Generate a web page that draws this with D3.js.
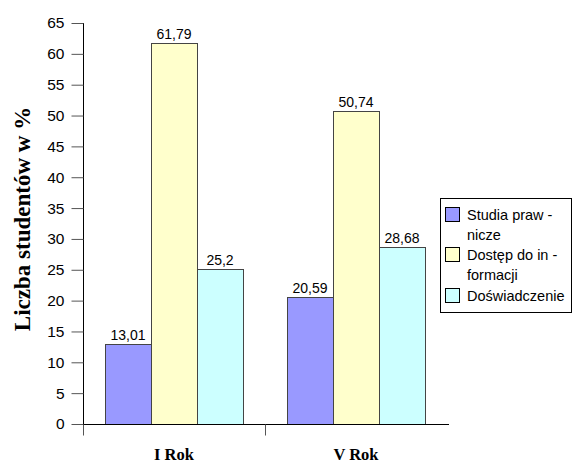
<!DOCTYPE html>
<html><head><meta charset="utf-8">
<script src="https://cdn.jsdelivr.net/npm/d3@7"></script>
<style>body{margin:0;background:#fff}svg{display:block}</style>
</head><body>
<svg id="c" width="573" height="464"></svg>
<script>
const categories = ["I Rok", "V Rok"];
const seriesNames = ["Studia praw - nicze", "Dostęp do in - formacji", "Doświadczenie"];
const legendLines = [["Studia praw -", "nicze"], ["Dostęp do in -", "formacji"], ["Doświadczenie"]];
const studiaPrawnicze = [13.01, 20.59];
const dostepDoInformacji = [61.79, 50.74];
const doswiadczenie = [25.2, 28.68];
const valueLabels = [["13,01", "20,59"], ["61,79", "50,74"], ["25,2", "28,68"]];
const yTicks = [0,5,10,15,20,25,30,35,40,45,50,55,60,65];
const colors = ["#9999FF", "#FFFFCC", "#CCFFFF"];

(function () {
const series = [studiaPrawnicze, dostepDoInformacji, doswiadczenie];
const svg = d3.select("#c");
const mLeft = 83, mRight = 447, mTop = 23, mBottom = 424;
const sans = "Liberation Sans, Arial, sans-serif";
const serif = "Liberation Serif, Times New Roman, serif";

const y = d3.scaleLinear().domain([0, 65]).range([mBottom, mTop]);
const x0 = d3.scaleBand().domain(categories).range([mLeft, mRight]).padding(0);
const x1 = d3.scaleBand().domain(d3.range(3)).range([22, x0.bandwidth() - 22]).padding(0);

// bars
series.forEach((vals, si) => {
  const g = svg.append("g");
  g.selectAll("rect").data(vals).enter().append("rect")
    .attr("x", (d, i) => x0(categories[i]) + x1(si) + 0.5)
    .attr("y", d => Math.round(y(d)) + 0.5)
    .attr("width", x1.bandwidth())
    .attr("height", d => mBottom - Math.round(y(d)))
    .attr("fill", colors[si])
    .attr("stroke", "#444").attr("stroke-width", 1);
  g.selectAll("text").data(vals).enter().append("text")
    .attr("x", (d, i) => x0(categories[i]) + x1(si) + x1.bandwidth() / 2)
    .attr("y", d => y(d) - 4)
    .attr("text-anchor", "middle")
    .attr("font-family", sans)
    .attr("font-size", 14).attr("fill", "#000")
    .text((d, i) => valueLabels[si][i]);
});

// y axis
const yAxis = d3.axisLeft(y).tickValues(yTicks).tickSize(12).tickPadding(7).tickFormat(d3.format("d"));
const ya = svg.append("g").attr("transform", `translate(${mLeft + 0.5},0)`).call(yAxis);
ya.select(".domain").attr("stroke", "#000").attr("d", `M0,${mTop}V${mBottom}`);
ya.selectAll(".tick line").attr("stroke", "#555");
ya.selectAll(".tick text").attr("font-family", sans).attr("font-size", 15.5).attr("fill", "#000");

// x axis
const xa = svg.append("g").attr("transform", `translate(0,${mBottom + 0.5})`);
xa.append("line").attr("x1", mLeft).attr("x2", mRight + 2).attr("y1", 0).attr("y2", 0).attr("stroke", "#000");
const xticks = [mLeft, ...categories.map(c => x0(c) + x0.bandwidth())];
xa.selectAll("line.t").data(xticks.slice(0, 2)).enter().append("line").attr("class", "t")
  .attr("x1", d => Math.round(d) + 0.5).attr("x2", d => Math.round(d) + 0.5)
  .attr("y1", 0).attr("y2", 11).attr("stroke", "#555");
xa.selectAll("text").data(categories).enter().append("text")
  .attr("x", d => x0(d) + x0.bandwidth() / 2)
  .attr("y", 35)
  .attr("text-anchor", "middle")
  .attr("font-family", serif)
  .attr("font-weight", "bold").attr("font-size", 16.5)
  .text(d => d);

// y title
svg.append("text")
  .attr("transform", "translate(30,219) rotate(-90)")
  .attr("text-anchor", "middle")
  .attr("font-family", serif)
  .attr("font-weight", "bold").attr("font-size", 23)
  .text("Liczba studentów w %");

// legend
const lg = svg.append("g");
lg.append("rect").attr("x", 440.5).attr("y", 198.5).attr("width", 131).attr("height", 114)
  .attr("fill", "#fff").attr("stroke", "#000");
const rowY = [215, 255, 296];
legendLines.forEach((lines, i) => {
  lg.append("rect").attr("x", 445.5).attr("y", rowY[i] - 7.5).attr("width", 14).attr("height", 14)
    .attr("fill", colors[i]).attr("stroke", "#000");
  lines.forEach((t, j) => {
    lg.append("text").attr("x", 467).attr("y", rowY[i] + 5 + j * 20)
      .attr("font-family", sans).attr("font-size", 14.5)
      .text(t);
  });
});
})();
</script>
</body></html>
